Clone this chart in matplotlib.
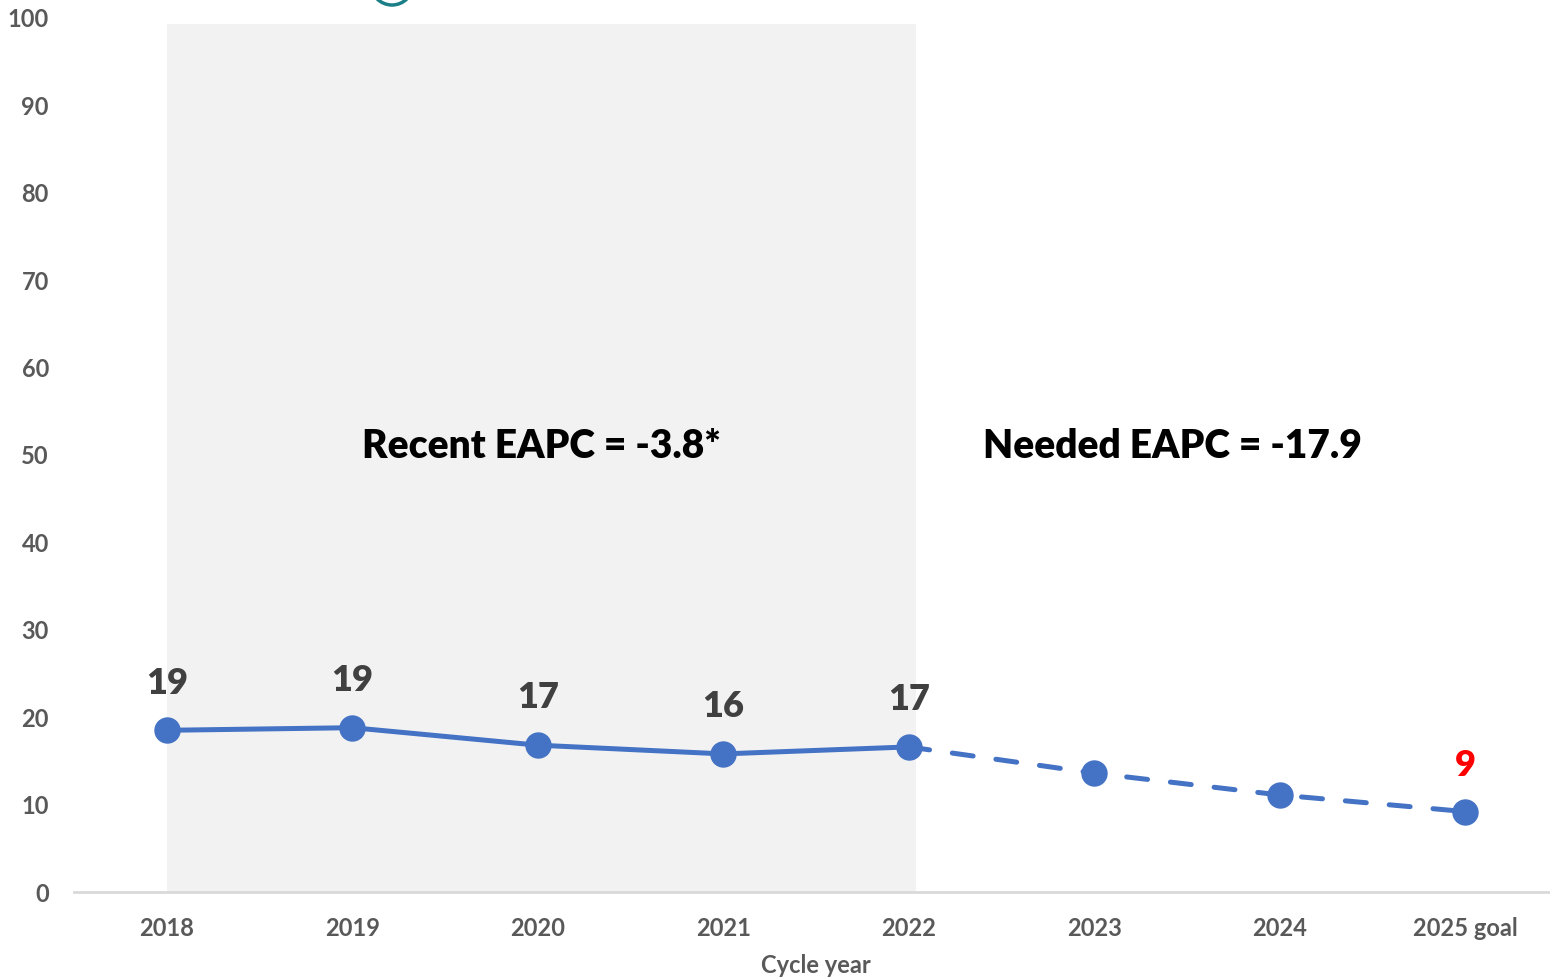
import matplotlib.pyplot as plt
from matplotlib.patches import Ellipse

plt.rcParams['font.family'] = ['Lato', 'DejaVu Sans']

# cycle years and rates (observed 2018-2022, projected to the 2025 goal)
years = ['2018', '2019', '2020', '2021', '2022', '2023', '2024', '2025 goal']
observed = [18.5, 18.8, 16.8, 15.8, 16.6]
projected = [16.6, 13.6, 11.1, 9.2]
labelled = [0, 1, 2, 3, 4]
recent_text = 'Recent EAPC = -3.8*'
needed_text = 'Needed EAPC = -17.9'

blue = '#4472C4'
grey_txt = '#595959'

fig = plt.figure(figsize=(15.5, 9.8), dpi=100)
ax = fig.add_axes([74 / 1550, 88 / 980, 1476 / 1550, 874 / 980])

x_obs = list(range(len(observed)))
x_proj = list(range(len(observed) - 1, len(years)))

# shaded block behind the observed years
ax.axvspan(0, 4.04, ymin=0, ymax=0.993, color='#f2f2f2', lw=0, zorder=0)

ax.plot(x_obs, observed, color=blue, lw=3.6, marker='o', ms=18, zorder=3)
ax.plot(x_proj, projected, color=blue, lw=3.6, ls=(0, (4.2, 4.6)),
        dash_capstyle='round', marker='o', ms=18, markevery=[1, 2, 3], zorder=3)

for i in labelled:
    ax.annotate(str(int(observed[i] + 0.5)), (i, observed[i]), xytext=(0, 34),
                textcoords='offset points', ha='center', va='center',
                fontsize=26, fontweight='heavy', color='#404040')
ax.annotate(str(int(projected[-1] + 0.5)), (len(years) - 1, projected[-1]),
            xytext=(0, 33), textcoords='offset points', ha='center', va='center',
            fontsize=26, fontweight='heavy', color='#ff0000')

ax.text(2.02, 51, recent_text, ha='center', va='center', fontsize=28,
        fontweight='heavy', color='black')
ax.text(5.42, 51, needed_text, ha='center', va='center', fontsize=28,
        fontweight='heavy', color='black')

ax.set_xlim(-0.5, -0.5 + 1476 / 185.5)
ax.set_ylim(0, 100)
ax.set_xticks(range(len(years)))
ax.set_xticklabels(years)
ax.set_yticks(range(0, 101, 10))
ax.tick_params(axis='both', length=0, labelsize=17, labelcolor=grey_txt)
ax.tick_params(axis='x', pad=18)
ax.tick_params(axis='y', pad=18)
for lab in ax.get_xticklabels() + ax.get_yticklabels():
    lab.set_fontweight('bold')

for s in ['top', 'right', 'left']:
    ax.spines[s].set_visible(False)
ax.spines['bottom'].set_color('#d9d9d9')
ax.spines['bottom'].set_linewidth(2)

fig.text(816 / 1550, 1 - 965 / 980, 'Cycle year', ha='center', va='center',
         fontsize=17, fontweight='bold', color=grey_txt)

# small ring at the top edge
fig.patches.append(Ellipse((392 / 1550, 1 + 16 / 980), 42 / 1550, 42 / 980,
                           transform=fig.transFigure, fill=False,
                           edgecolor='#1b7f88', lw=2.5))

fig.savefig('out.png', dpi=100)
